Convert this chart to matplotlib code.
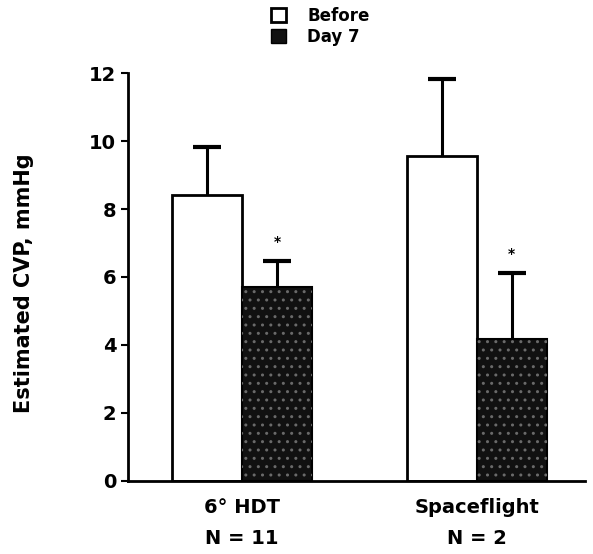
import matplotlib
matplotlib.use("Agg")
import matplotlib.pyplot as plt
import numpy as np
from matplotlib.patches import Patch

groups = ["6° HDT\nN = 11", "Spaceflight\nN = 2"]
series = ["Before", "Day 7"]
before = [8.42, 9.56]
before_err = [1.4, 2.26]
day7 = [5.7, 4.17]
day7_err = [0.78, 1.95]
star = ["*", "*"]
yticks = [0, 2, 4, 6, 8, 10, 12]

plt.rcParams['font.family'] = ['DejaVu Sans']
plt.rcParams['font.weight'] = 'bold'

fig = plt.figure(figsize=(5.93, 5.54), dpi=100)
ax = fig.add_axes([0.216, 0.132, 0.77, 0.736])

x = np.arange(len(groups))
w = 0.298
xb = x - w / 2
xd = x + w / 2

def upper_err(xs, vals, errs):
    tops = [v + e for v, e in zip(vals, errs)]
    ax.vlines(xs, vals, tops, color='black', linewidth=2.2, zorder=1)
    ax.plot(xs, tops, linestyle='none', marker='_', markersize=20,
            markeredgewidth=3, color='black', zorder=1)

ax.bar(xb, before, w, color='white', edgecolor='black', linewidth=2, zorder=2)
upper_err(xb, before, before_err)
ax.bar(xd, day7, w, color='#111111', edgecolor='black', linewidth=1.5, zorder=2)
ax.bar(xd, day7, w, color='none', edgecolor='#6a6a6a', hatch='..', linewidth=0, zorder=3)
upper_err(xd, day7, day7_err)
for xi, v, e, s in zip(xd, day7, day7_err, star):
    ax.text(xi, v + e + 0.35, s, ha='center', va='bottom', fontsize=10, fontweight='bold')

ax.set_xlim(-0.485, 1.46)
ax.set_ylim(0, 12)
ax.set_yticks(yticks)
ax.set_xticks(x)
ax.set_xticklabels(groups, fontsize=14, fontweight='bold', linespacing=1.8)
ax.tick_params(axis='x', length=0, pad=12)
ax.tick_params(axis='y', length=5, width=1.5, direction='out', labelsize=14)
for s in ['top', 'right']:
    ax.spines[s].set_visible(False)
for s in ['left', 'bottom']:
    ax.spines[s].set_linewidth(2)

ax.set_ylabel("Estimated CVP, mmHg", fontsize=15, fontweight='bold')
ax.yaxis.set_label_coords(-0.205, 0.485)

handles = [Patch(facecolor='white', edgecolor='black', linewidth=2, label=series[0]),
           Patch(facecolor='#111111', edgecolor='black', label=series[1])]
fig.legend(handles=handles, loc='upper left', bbox_to_anchor=(0.445, 1.0), frameon=False,
           borderaxespad=0.2, borderpad=0.2,
           handlelength=0.9, handleheight=0.9, handletextpad=1.3, labelspacing=0.2,
           prop={'size': 12, 'weight': 'bold'})

fig.savefig("out.png", dpi=100)
